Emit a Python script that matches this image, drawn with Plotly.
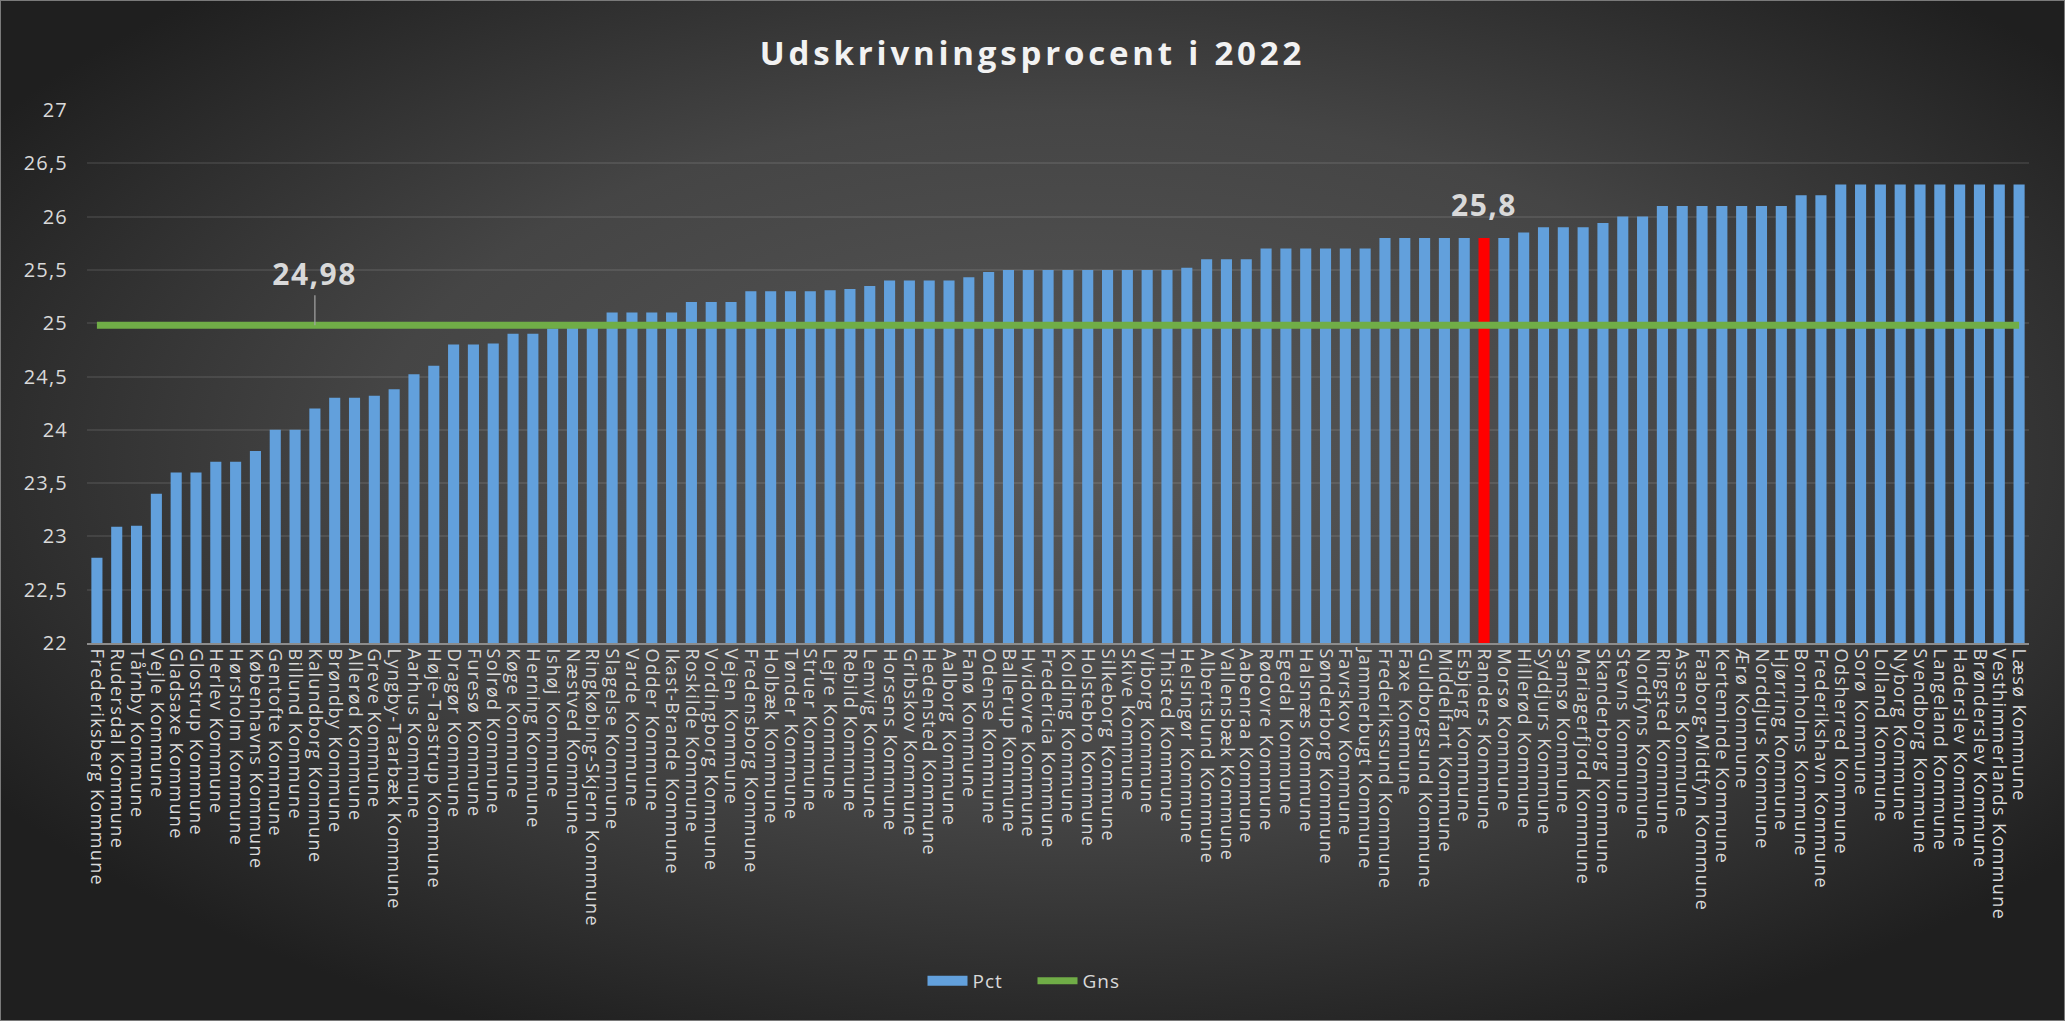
import base64
import plotly.graph_objects as go

# ---------------- data ----------------
categories = [
    "Frederiksberg Kommune", "Rudersdal Kommune", "Tårnby Kommune", "Vejle Kommune",
    "Gladsaxe Kommune", "Glostrup Kommune", "Herlev Kommune", "Hørsholm Kommune",
    "Københavns Kommune", "Gentofte Kommune", "Billund Kommune", "Kalundborg Kommune",
    "Brøndby Kommune", "Allerød Kommune", "Greve Kommune", "Lyngby-Taarbæk Kommune",
    "Aarhus Kommune", "Høje-Taastrup Kommune", "Dragør Kommune", "Furesø Kommune",
    "Solrød Kommune", "Køge Kommune", "Herning Kommune", "Ishøj Kommune",
    "Næstved Kommune", "Ringkøbing-Skjern Kommune", "Slagelse Kommune", "Varde Kommune",
    "Odder Kommune", "Ikast-Brande Kommune", "Roskilde Kommune", "Vordingborg Kommune",
    "Vejen Kommune", "Fredensborg Kommune", "Holbæk Kommune", "Tønder Kommune",
    "Struer Kommune", "Lejre Kommune", "Rebild Kommune", "Lemvig Kommune",
    "Horsens Kommune", "Gribskov Kommune", "Hedensted Kommune", "Aalborg Kommune",
    "Fanø Kommune", "Odense Kommune", "Ballerup Kommune", "Hvidovre Kommune",
    "Fredericia Kommune", "Kolding Kommune", "Holstebro Kommune", "Silkeborg Kommune",
    "Skive Kommune", "Viborg Kommune", "Thisted Kommune", "Helsingør Kommune",
    "Albertslund Kommune", "Vallensbæk Kommune", "Aabenraa Kommune", "Rødovre Kommune",
    "Egedal Kommune", "Halsnæs Kommune", "Sønderborg Kommune", "Favrskov Kommune",
    "Jammerbugt Kommune", "Frederikssund Kommune", "Faxe Kommune", "Guldborgsund Kommune",
    "Middelfart Kommune", "Esbjerg Kommune", "Randers Kommune", "Morsø Kommune",
    "Hillerød Kommune", "Syddjurs Kommune", "Samsø Kommune", "Mariagerfjord Kommune",
    "Skanderborg Kommune", "Stevns Kommune", "Nordfyns Kommune", "Ringsted Kommune",
    "Assens Kommune", "Faaborg-Midtfyn Kommune", "Kerteminde Kommune", "Ærø Kommune",
    "Norddjurs Kommune", "Hjørring Kommune", "Bornholms Kommune", "Frederikshavn Kommune",
    "Odsherred Kommune", "Sorø Kommune", "Lolland Kommune", "Nyborg Kommune",
    "Svendborg Kommune", "Langeland Kommune", "Haderslev Kommune", "Brønderslev Kommune",
    "Vesthimmerlands Kommune", "Læsø Kommune",
]

pct = [
    22.8, 23.09, 23.1, 23.4, 23.6, 23.6, 23.7, 23.7, 23.8, 24.0,
    24.0, 24.2, 24.3, 24.3, 24.32, 24.38, 24.52, 24.6, 24.8, 24.8,
    24.81, 24.9, 24.9, 24.95, 25.0, 25.0, 25.1, 25.1, 25.1, 25.1,
    25.2, 25.2, 25.2, 25.3, 25.3, 25.3, 25.3, 25.31, 25.32, 25.35,
    25.4, 25.4, 25.4, 25.4, 25.43, 25.48, 25.5, 25.5, 25.5, 25.5,
    25.5, 25.5, 25.5, 25.5, 25.5, 25.52, 25.6, 25.6, 25.6, 25.7,
    25.7, 25.7, 25.7, 25.7, 25.7, 25.8, 25.8, 25.8, 25.8, 25.8,
    25.8, 25.8, 25.85, 25.9, 25.9, 25.9, 25.94, 26.0, 26.0, 26.1,
    26.1, 26.1, 26.1, 26.1, 26.1, 26.1, 26.2, 26.2, 26.3, 26.3,
    26.3, 26.3, 26.3, 26.3, 26.3, 26.3, 26.3, 26.3,
]

GNS = 24.98                       # average (Gns)
gns = [GNS] * len(categories)
HIGHLIGHT = "Randers Kommune"
GNS_LABEL_AT = "Kalundborg Kommune"

y_tickvals = [22, 22.5, 23, 23.5, 24, 24.5, 25, 25.5, 26, 26.5, 27]
y_ticktext = ["22", "22,5", "23", "23,5", "24", "24,5", "25", "25,5", "26", "26,5", "27"]

TITLE = "Udskrivningsprocent i 2022"

# ---------------- layout geometry ----------------
W, H = 2065, 1021
ML, MR, MT, MB = 87, 36, 110, 378
PW, PH = W - ML - MR, H - MT - MB

BLUE = "#62a0dc"
RED = "#ff0000"
GREEN = "#70ad47"
TXT = "#d9d9d9"

bar_colors = [RED if c == HIGHLIGHT else BLUE for c in categories]

svg = f"""<svg xmlns='http://www.w3.org/2000/svg' width='{W}' height='{H}' viewBox='0 0 {W} {H}' preserveAspectRatio='none'>
<defs><radialGradient id='g' cx='0.52' cy='0.45' r='0.62'>
<stop offset='0' stop-color='#575757'/><stop offset='0.55' stop-color='#454545'/><stop offset='1' stop-color='#1f1f1f'/>
</radialGradient></defs>
<rect width='{W}' height='{H}' fill='url(#g)'/>
<rect x='0.5' y='0.5' width='{W-1}' height='{H-1}' fill='none' stroke='#7a7a7a' stroke-width='1'/>
</svg>"""
bg_uri = "data:image/svg+xml;base64," + base64.b64encode(svg.encode()).decode()

fig = go.Figure()
fig.add_trace(go.Bar(
    x=categories, y=pct, name="Pct", showlegend=False,
    marker=dict(color=bar_colors, line=dict(width=0)),
))
# legend entry for the bars drawn as a wide block (as in the original legend)
fig.add_trace(go.Scatter(
    x=[None], y=[None], name="Pct", mode="lines",
    line=dict(color=BLUE, width=10), hoverinfo="skip",
))
fig.add_trace(go.Scatter(
    x=categories, y=gns, name="Gns", mode="lines",
    line=dict(color=GREEN, width=7),
))

fmt = lambda v: (f"{v:.2f}".rstrip("0").rstrip(".")).replace(".", ",")

fig.add_annotation(
    x=GNS_LABEL_AT, y=GNS, text=f"<b>{fmt(GNS)}</b>",
    showarrow=True, arrowhead=0, arrowwidth=1.2, arrowcolor="#a6a6a6",
    ax=0, ay=-52, font=dict(family="Open Sans", size=30, color=TXT),
)
hv = pct[categories.index(HIGHLIGHT)]
fig.add_annotation(
    x=HIGHLIGHT, y=hv, text=f"<b>{fmt(hv)}</b>",
    showarrow=False, yshift=33, font=dict(family="Open Sans", size=30, color=TXT),
)

fig.add_layout_image(dict(
    source=bg_uri, xref="paper", yref="paper",
    x=-ML / PW, y=1 + MT / PH, sizex=W / PW, sizey=H / PH,
    xanchor="left", yanchor="top", sizing="stretch", layer="below",
))

fig.update_layout(
    width=W, height=H,
    margin=dict(l=ML, r=MR, t=MT, b=MB, pad=0),
    paper_bgcolor="#3a3a3a", plot_bgcolor="rgba(0,0,0,0)",
    font=dict(family="Open Sans", color=TXT, size=18),
    title=dict(
        text=f"<b>{TITLE}</b>", x=0.5, xanchor="center", xref="container",
        y=1 - 53 / H, yanchor="middle", yref="container",
        font=dict(family="Open Sans", size=33, color="#f2f2f2"),
    ),
    bargap=0.44,
    showlegend=True,
    legend=dict(
        orientation="h", xref="container", x=0.5, xanchor="center",
        yref="container", y=1 - 981 / H, yanchor="middle",
        font=dict(size=19, color=TXT), bgcolor="rgba(0,0,0,0)",
        itemwidth=40, traceorder="normal",
        entrywidth=55, entrywidthmode="pixels",
    ),
    xaxis=dict(
        type="category", tickangle=90, automargin=False,
        tickmode="array", tickvals=categories, ticktext=categories,
        showgrid=False, showline=True, linecolor="#8c8c8c", linewidth=2,
        ticks="", tickfont=dict(size=18, color=TXT),
    ),
    yaxis=dict(
        range=[22, 27], tickvals=y_tickvals, ticktext=y_ticktext,
        automargin=False, showgrid=True, gridcolor="rgba(255,255,255,0.09)", gridwidth=2,
        zeroline=False, showline=False, ticks="", ticklabelstandoff=18,
        tickfont=dict(size=20, color=TXT),
    ),
)

css = ("html,body{margin:0;padding:0;overflow:hidden}"
       ".xtick text{letter-spacing:1.4px}"
       ".ytick text{letter-spacing:1.2px}"
       ".gtitle{letter-spacing:3.8px}"
       ".annotation-text{letter-spacing:1.5px}"
       ".legendtext{letter-spacing:1px}")
post = ("var s=document.createElement('style');s.innerHTML='" + css +
        "';document.head.appendChild(s);")

fig.write_html("out.html", post_script=post, config={"displayModeBar": False})
